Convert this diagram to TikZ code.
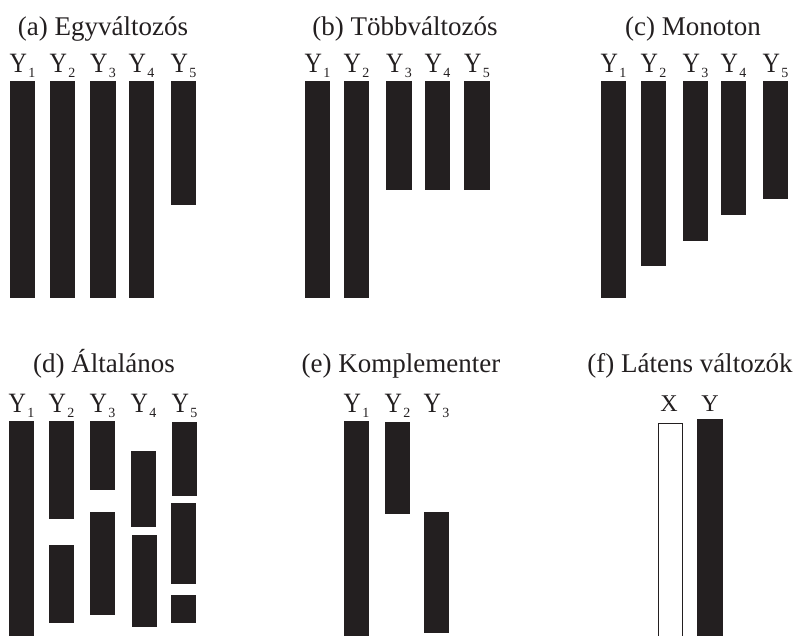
\documentclass[tikz,border=0pt]{standalone}
\usepackage{fontspec}
\setmainfont{Liberation Serif}
\definecolor{barc}{RGB}{35,31,32}
\newcommand\mylbl[1]{\scalebox{0.86}[1]{Y}\kern1.5pt\raisebox{-5pt}{\fontsize{14}{14}\selectfont #1}}
\begin{document}
\begin{tikzpicture}[x=1pt,y=-1pt,
  ttl/.style={anchor=base, font=\fontsize{27}{30}\selectfont, text=barc, inner sep=0pt},
  lbl/.style={anchor=base, font=\fontsize{28}{30}\selectfont, text=barc, inner sep=0pt},
  slbl/.style={anchor=base, font=\fontsize{24}{28}\selectfont, text=barc, inner sep=0pt},
  bar/.style={fill=barc},
  hollow/.style={draw=barc, line width=1pt, fill=white}]
\useasboundingbox (0,0) rectangle (800,635);
% ---------- (a)
\node[ttl] (ta) at (103,35) {(a) Egyváltozós};
\foreach \c/\n in {22.5/1,62.5/2,103/3,141.5/4,183.5/5}
  \node[lbl] (la\n) at (\c,72) {\mylbl{\n}};
\fill[bar] (10,81) rectangle (35,298);
\fill[bar] (50,81) rectangle (75,298);
\fill[bar] (90,81) rectangle (116,298);
\fill[bar] (129,81) rectangle (154,298);
\fill[bar] (171,81) rectangle (196,205);
% ---------- (b)
\node[ttl] (tb) at (405,35) {(b) Többváltozós};
\foreach \c/\n in {317.5/1,356.5/2,399/3,437.5/4,477/5}
  \node[lbl] (lb\n) at (\c,72) {\mylbl{\n}};
\fill[bar] (305,81) rectangle (330,298);
\fill[bar] (344,81) rectangle (369,298);
\fill[bar] (386,81) rectangle (412,190);
\fill[bar] (425,81) rectangle (450,190);
\fill[bar] (464,81) rectangle (490,190);
% ---------- (c)
\node[ttl] (tc) at (693,35) {(c) Monoton};
\foreach \c/\n in {613.5/1,653.5/2,695.5/3,733.5/4,775.5/5}
  \node[lbl] (lc\n) at (\c,72) {\mylbl{\n}};
\fill[bar] (601,81) rectangle (626,298);
\fill[bar] (641,81) rectangle (666,266);
\fill[bar] (683,81) rectangle (708,241);
\fill[bar] (721,81) rectangle (746,215);
\fill[bar] (763,81) rectangle (788,199);
% ---------- (d)
\node[ttl] (td) at (104,372) {(d) Általános};
\foreach \c/\n in {21.5/1,61.5/2,102.5/3,143.5/4,184.5/5}
  \node[lbl] (ld\n) at (\c,412) {\mylbl{\n}};
\fill[bar] (9,421) rectangle (34,640);
\fill[bar] (49,421) rectangle (74,519);
\fill[bar] (49,545) rectangle (74,623);
\fill[bar] (90,421) rectangle (115,490);
\fill[bar] (90,512) rectangle (115,615);
\fill[bar] (131,451) rectangle (156,527);
\fill[bar] (132,535) rectangle (157,627);
\fill[bar] (172,422) rectangle (197,496);
\fill[bar] (171,503) rectangle (196,584);
\fill[bar] (171,595) rectangle (196,623);
% ---------- (e)
\node[ttl] (te) at (401,372) {(e) Komplementer};
\foreach \c/\n in {356.5/1,397.5/2,436.5/3}
  \node[lbl] (le\n) at (\c,412) {\mylbl{\n}};
\fill[bar] (344,421) rectangle (369,640);
\fill[bar] (385,422) rectangle (410,514);
\fill[bar] (424,512) rectangle (449,633);
% ---------- (f)
\node[ttl] (tf) at (690,372) {(f) Látens változók};
\node[slbl] (lfx) at (669,411) {X};
\node[slbl] (lfy) at (710,411) {Y};
\draw[hollow] (658.5,423.5) rectangle (682.5,650);
\fill[bar] (697,419) rectangle (723,640);
\end{tikzpicture}
\end{document}
